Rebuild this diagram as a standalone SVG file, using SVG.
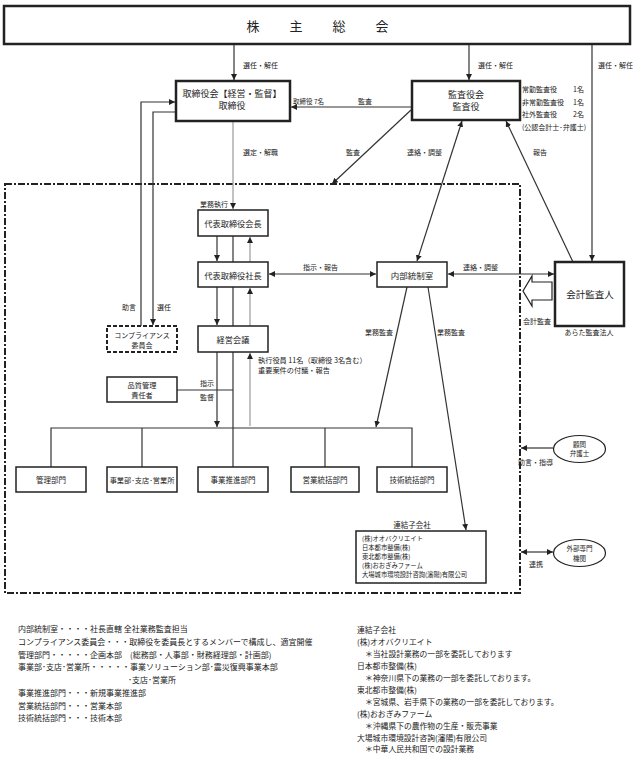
<svg xmlns="http://www.w3.org/2000/svg" width="637" height="763" viewBox="0 0 637 763">
<style>
text{font-family:"Noto Sans CJK JP","Noto Sans CJK SC","Liberation Sans",sans-serif;fill:#222;}
.c{text-anchor:middle;dominant-baseline:central;}
.l{dominant-baseline:central;}
.box{fill:#fff;stroke:#222;stroke-width:1.5;}
.bold{fill:#fff;stroke:#222;stroke-width:2.5;}
.ln{fill:none;stroke:#333;stroke-width:1.2;}
.gl{fill:none;stroke:#999;stroke-width:1.2;}
.s7{font-size:7px;}
.n{font-size:8px;}
</style>
<defs>
<marker id="a" viewBox="0 0 10 10" refX="10" refY="5" markerWidth="6" markerHeight="6" markerUnits="userSpaceOnUse" orient="auto-start-reverse"><path d="M0,0 L10,5 L0,10 z" fill="#222"/></marker>
<marker id="ag" viewBox="0 0 10 10" refX="10" refY="5" markerWidth="6" markerHeight="6" markerUnits="userSpaceOnUse" orient="auto-start-reverse"><path d="M0,0 L10,5 L0,10 z" fill="#222"/></marker>
</defs>
<rect width="637" height="763" fill="#fff"/>

<g id="group-boundary">
<rect x="5" y="184" width="515" height="409" fill="none" stroke="#222" stroke-width="2" stroke-dasharray="7,2,2,2"/>
</g>

<g id="connectors">
<line class="ln" x1="234" y1="44" x2="234" y2="80" marker-end="url(#a)"/>
<line class="ln" x1="469" y1="44" x2="469" y2="80" marker-end="url(#a)"/>
<line class="ln" x1="592" y1="44" x2="592" y2="261" marker-end="url(#a)"/>
<line class="ln" x1="412" y1="107" x2="291" y2="107" marker-end="url(#a)"/>
<line class="ln" x1="411" y1="110" x2="332" y2="184" marker-end="url(#a)"/>
<line class="ln" x1="462" y1="121" x2="417" y2="261" marker-start="url(#a)" marker-end="url(#a)"/>
<line class="ln" x1="573" y1="262" x2="506" y2="121" marker-end="url(#a)"/>
<line class="gl" x1="233" y1="121" x2="233" y2="209" marker-end="url(#ag)"/>
<polyline class="ln" points="141,326 141,102 175,102" marker-end="url(#a)"/>
<polyline class="ln" points="176,112 153,112 153,325" marker-end="url(#a)"/>
<line class="ln" x1="217" y1="236" x2="217" y2="261" marker-end="url(#a)"/>
<line class="ln" x1="233" y1="236" x2="233" y2="262"/>
<line class="gl" x1="250" y1="262" x2="250" y2="237" marker-end="url(#ag)"/>
<line class="ln" x1="217" y1="287" x2="217" y2="325" marker-end="url(#a)"/>
<line class="ln" x1="233" y1="287" x2="233" y2="326"/>
<line class="gl" x1="250" y1="326" x2="250" y2="288" marker-end="url(#ag)"/>
<line class="ln" x1="217" y1="352" x2="217" y2="427" marker-end="url(#a)"/>
<line class="ln" x1="233" y1="352" x2="233" y2="467"/>
<line class="gl" x1="250" y1="426" x2="250" y2="353" marker-end="url(#ag)"/>
<line class="ln" x1="177" y1="390" x2="233" y2="390"/>
<line class="ln" x1="269" y1="274" x2="376" y2="274" marker-start="url(#a)" marker-end="url(#a)"/>
<line class="ln" x1="448" y1="274" x2="554" y2="274" marker-start="url(#a)" marker-end="url(#a)"/>
<line class="ln" x1="407" y1="287" x2="376" y2="427" marker-end="url(#a)"/>
<line class="ln" x1="428" y1="287" x2="466" y2="530" marker-end="url(#a)"/>
<polyline class="ln" points="51,467 51,428 412,428 412,467"/>
<line class="ln" x1="142" y1="428" x2="142" y2="467"/>
<line class="ln" x1="325" y1="428" x2="325" y2="467"/>
<line class="ln" x1="553" y1="448" x2="521" y2="448" marker-end="url(#a)"/>
<line class="ln" x1="521" y1="552" x2="553" y2="552" marker-start="url(#a)" marker-end="url(#a)"/>
<polygon points="552,282 532,282 532,276 523,291 532,306 532,300 552,300" fill="#fff" stroke="#222" stroke-width="1.2"/>
<g class="s7">
<text x="243" y="65" class="l">選任・解任</text>
<text x="478" y="65" class="l">選任・解任</text>
<text x="598" y="65" class="l">選任・解任</text>
<text x="293" y="101" class="l" style="font-size:6.5px">取締役 7名</text>
<text x="358" y="101" class="l">監査</text>
<text x="243" y="152" class="l">選定・解職</text>
<text x="346" y="152" class="l">監査</text>
<text x="407" y="152" class="l">連絡・調整</text>
<text x="533" y="152" class="l">報告</text>
<text x="200" y="204" class="l">業務執行</text>
<text x="122" y="307" class="l">助言</text>
<text x="157" y="307" class="l">選任</text>
<text x="303" y="267" class="l">指示・報告</text>
<text x="463" y="267" class="l">連絡・調整</text>
<text x="365" y="332" class="l">業務監査</text>
<text x="437" y="332" class="l">業務監査</text>
<text x="523" y="321" class="l">会計監査</text>
<text x="200" y="383" class="l">指示</text>
<text x="200" y="397" class="l">監督</text>
<text x="258" y="360" class="l" style="font-size:7.2px">執行役員 11名（取締役 3名含む）</text>
<text x="258" y="369.5" class="l" style="font-size:7.2px">重要案件の付議・報告</text>
<text x="518" y="462" class="l">助言・指導</text>
<text x="529" y="564" class="l">連携</text>
</g>
</g>

<g id="shareholders">
<rect x="4" y="6" width="626" height="38" class="bold"/>
<text x="253" y="25" class="c" style="font-size:13px">株</text>
<text x="296" y="25" class="c" style="font-size:13px">主</text>
<text x="339" y="25" class="c" style="font-size:13px">総</text>
<text x="382" y="25" class="c" style="font-size:13px">会</text>
</g>

<g id="board">
<rect x="176" y="81" width="114" height="40" class="bold"/>
<text x="232" y="93" class="c" style="font-size:9px">取締役会【経営・監督】</text>
<text x="232" y="105" class="c" style="font-size:9px">取締役</text>
</g>

<g id="auditors">
<rect x="412" y="81" width="108" height="39" class="bold"/>
<text x="466" y="94.5" class="c" style="font-size:9px">監査役会</text>
<text x="466" y="106.5" class="c" style="font-size:9px">監査役</text>
<g class="s7">
<text x="522" y="89" class="l">常勤監査役</text><text x="573" y="89" class="l">1名</text>
<text x="522" y="102" class="l">非常勤監査役</text><text x="573" y="102" class="l">1名</text>
<text x="522" y="114" class="l">社外監査役</text><text x="573" y="114" class="l">2名</text>
<text x="522" y="127" class="l">(公認会計士･弁護士)</text>
</g>
</g>

<g id="chairman">
<rect x="198" y="210" width="70" height="26" class="box"/>
<text x="233" y="223" class="c" style="font-size:8.2px">代表取締役会長</text>
</g>
<g id="president">
<rect x="198" y="262" width="70" height="25" class="box"/>
<text x="233" y="274.5" class="c" style="font-size:8.2px">代表取締役社長</text>
</g>
<g id="management-meeting">
<rect x="198" y="326" width="70" height="26" class="box"/>
<text x="233" y="339" class="c" style="font-size:8.2px">経営会議</text>
</g>
<g id="compliance">
<rect x="107" y="326" width="70" height="26" fill="#fff" stroke="#222" stroke-width="2" stroke-dasharray="4,2"/>
<text x="142" y="334.5" class="c s7">コンプライアンス</text>
<text x="142" y="345" class="c s7">委員会</text>
</g>
<g id="quality">
<rect x="107" y="377" width="70" height="25" class="box"/>
<text x="142" y="384.5" class="c" style="font-size:7.2px">品質管理</text>
<text x="142" y="395" class="c" style="font-size:7.2px">責任者</text>
</g>
<g id="internal-control">
<rect x="377" y="262" width="70" height="25" class="box"/>
<text x="412" y="274.5" class="c" style="font-size:8.5px">内部統制室</text>
</g>
<g id="accounting-auditor">
<rect x="555" y="262" width="69" height="64" class="bold"/>
<text x="590" y="294" class="c" style="font-size:9.5px">会計監査人</text>
<text x="589" y="332" class="c s7">あらた監査法人</text>
</g>

<g id="dept-admin"><rect x="16" y="467" width="70" height="25" class="box"/><text x="51" y="479.5" class="c" style="font-size:7.5px">管理部門</text></g>
<g id="dept-branches"><rect x="107" y="467" width="70" height="25" class="box"/><text x="142" y="479.5" class="c" style="font-size:7.2px">事業部･支店･営業所</text></g>
<g id="dept-promotion"><rect x="198" y="467" width="70" height="25" class="box"/><text x="233" y="479.5" class="c" style="font-size:7.5px">事業推進部門</text></g>
<g id="dept-sales"><rect x="291" y="467" width="68" height="25" class="box"/><text x="325" y="479.5" class="c" style="font-size:7.5px">営業統括部門</text></g>
<g id="dept-tech"><rect x="377" y="467" width="70" height="25" class="box"/><text x="412" y="479.5" class="c" style="font-size:7.5px">技術統括部門</text></g>

<g id="subsidiaries">
<text x="412" y="524" class="c" style="font-size:7.5px">連結子会社</text>
<rect x="356" y="531" width="130" height="52" class="box"/>
<g style="font-size:6.3px">
<text x="362" y="538.5" class="l">(株)オオバクリエイト</text>
<text x="362" y="547.5" class="l">日本都市整備(株)</text>
<text x="362" y="556.5" class="l">東北都市整備(株)</text>
<text x="362" y="565.5" class="l">(株)おおぎみファーム</text>
<text x="362" y="574.5" class="l">大場城市環境設計咨詢(瀋陽)有限公司</text>
</g>
</g>

<g id="lawyer">
<ellipse cx="579.5" cy="449" rx="26" ry="13.5" fill="#fff" stroke="#222" stroke-width="1.2"/>
<text x="579.5" y="443.5" class="c" style="font-size:6.5px">顧問</text>
<text x="579.5" y="453" class="c" style="font-size:6.5px">弁護士</text>
</g>
<g id="external">
<ellipse cx="579.5" cy="553" rx="26" ry="13.5" fill="#fff" stroke="#222" stroke-width="1.2"/>
<text x="579.5" y="548" class="c" style="font-size:6.5px">外部専門</text>
<text x="579.5" y="557.5" class="c" style="font-size:6.5px">機関</text>
</g>

<g id="notes-left" class="n">
<text x="18" y="628" class="l">内部統制室・・・・社長直轄 全社業務監査担当</text>
<text x="18" y="641" class="l">コンプライアンス委員会・・・取締役を委員長とするメンバーで構成し、適宜開催</text>
<text x="18" y="654" class="l">管理部門・・・・・企画本部　(総務部・人事部・財務経理部・計画部)</text>
<text x="18" y="666.5" class="l">事業部･支店･営業所・・・・・事業ソリューション部･震災復興事業本部</text>
<text x="128" y="679.5" class="l">･支店･営業所</text>
<text x="18" y="692.5" class="l">事業推進部門・・・新規事業推進部</text>
<text x="18" y="705" class="l">営業統括部門・・・営業本部</text>
<text x="18" y="717.5" class="l">技術統括部門・・・技術本部</text>
</g>
<g id="notes-right" style="font-size:7.8px">
<text x="357" y="629" class="l">連結子会社</text>
<text x="357" y="641.5" class="l">(株)オオバクリエイト</text>
<text x="365" y="653.5" class="l">＊当社設計業務の一部を委託しております</text>
<text x="357" y="665" class="l">日本都市整備(株)</text>
<text x="365" y="677.5" class="l">＊神奈川県下の業務の一部を委託しております。</text>
<text x="357" y="689" class="l">東北都市整備(株)</text>
<text x="365" y="701" class="l">＊宮城県、岩手県下の業務の一部を委託しております。</text>
<text x="357" y="713" class="l">(株)おおぎみファーム</text>
<text x="365" y="725" class="l">＊沖縄県下の農作物の生産・販売事業</text>
<text x="357" y="737" class="l">大場城市環境設計咨詢(瀋陽)有限公司</text>
<text x="365" y="748.5" class="l">＊中華人民共和国での設計業務</text>
</g>
</svg>
